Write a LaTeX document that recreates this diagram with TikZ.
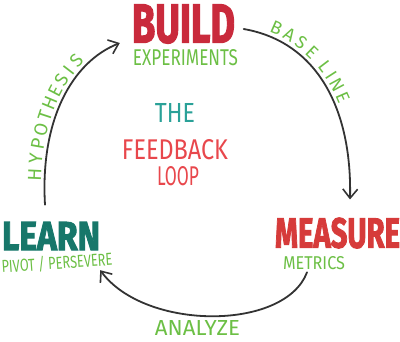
\documentclass[tikz,border=0pt]{standalone}
\usepackage{fontspec}
\setmainfont{Fira Sans}
\newfontfamily\heavyfont[FakeBold=2.5]{Fira Sans}
\usepackage{tikz}
\usetikzlibrary{arrows.meta}

\definecolor{buildred}{HTML}{C92A3C}
\definecolor{measurered}{HTML}{D63B3A}
\definecolor{learnteal}{HTML}{17776A}
\definecolor{notegreen}{HTML}{6CBF45}
\definecolor{theteal}{HTML}{2AA198}
\definecolor{feedred}{HTML}{E8474C}
\definecolor{loopgray}{HTML}{333333}

\begin{document}
\begin{tikzpicture}[x=1pt, y=-1pt,
          stage/.style={inner sep=0pt, font=\heavyfont\bfseries},
          note/.style={inner sep=0pt, text=notegreen},
          letter/.style={sloped, above=3.5pt, inner sep=0pt, text=notegreen},
          cycle/.style={loopgray, line width=1.8pt, line cap=round,
            -{Straight Barb[length=3.2mm, width=5.2mm, line width=1.6pt]}}
        ]
          \useasboundingbox (0,0) rectangle (400,341);

          % Stufen
          \node[stage, text=buildred] (build) at (183.5,24) {\resizebox{103pt}{38pt}{BUILD}};
          \node[stage, text=measurered] (measure) at (337.5,233) {\resizebox{125pt}{30pt}{MEASURE}};
          \node[stage, text=learnteal] (learn) at (51,236) {\resizebox{98pt}{28pt}{LEARN}};

          % Notizen
          \node[note] (exp) at (185.5,58) {\resizebox{105pt}{16pt}{EXPERIMENTS}};
          \node[note] (metrics) at (314,263.5) {\resizebox{62pt}{13pt}{METRICS}};
          \node[note, rotate=4] (pivot) at (57,263) {\resizebox{111pt}{14pt}{PIVOT / PERSEVERE}};

          % Mitte
          \node[inner sep=0pt, text=theteal] (the) at (175,112.5) {\resizebox{40pt}{19pt}{THE}};
          \node[inner sep=0pt, text=feedred] (feedback) at (175,150) {\resizebox{106pt}{20pt}{FEEDBACK}};
          \node[inner sep=0pt, text=feedred] (loop) at (178,176) {\resizebox{42pt}{19pt}{LOOP}};

          % Kreislauf
          \draw[cycle] ([xshift=8.5pt,yshift=-5pt]build.east)
            .. controls (318,42) and (352,110) .. ([xshift=12.5pt,yshift=18pt]measure.north);
          \draw[cycle] ([xshift=-7pt,yshift=-2pt]metrics.south)
            .. controls (285,331) and (145,331) .. ([yshift=-20pt]learn.south east);
          \draw[cycle] ([xshift=-6pt,yshift=17pt]learn.north)
            .. controls (40,120) and (72,62) .. ([xshift=-12pt,yshift=-19pt]build.west);

          % Pfeiltexte
          \foreach \ch/\t [count=\i] in {B/.14, A/.205, S/.27, E/.335, L/.425, I/.475, N/.525, E/.585}
            \path ([xshift=8.5pt,yshift=-5pt]build.east)
              .. controls (318,42) and (352,110) .. ([xshift=12.5pt,yshift=18pt]measure.north)
              node[letter, pos=\t] (base\i) {\resizebox{!}{12.5pt}{\ch}};
          \foreach \ch [count=\i, evaluate=\i as \t using 0.0533+0.0667*\i] in {H,Y,P,O,T,H,E,S,I,S}
            \path ([xshift=-6pt,yshift=17pt]learn.north)
              .. controls (40,120) and (72,62) .. ([xshift=-12pt,yshift=-19pt]build.west)
              node[letter, pos=\t] (hypo\i) {\resizebox{!}{13pt}{\ch}};
          \node[note] (analyze) at (197.5,327.5) {\resizebox{85pt}{15pt}{ANALYZE}};
        \end{tikzpicture}
\end{document}
